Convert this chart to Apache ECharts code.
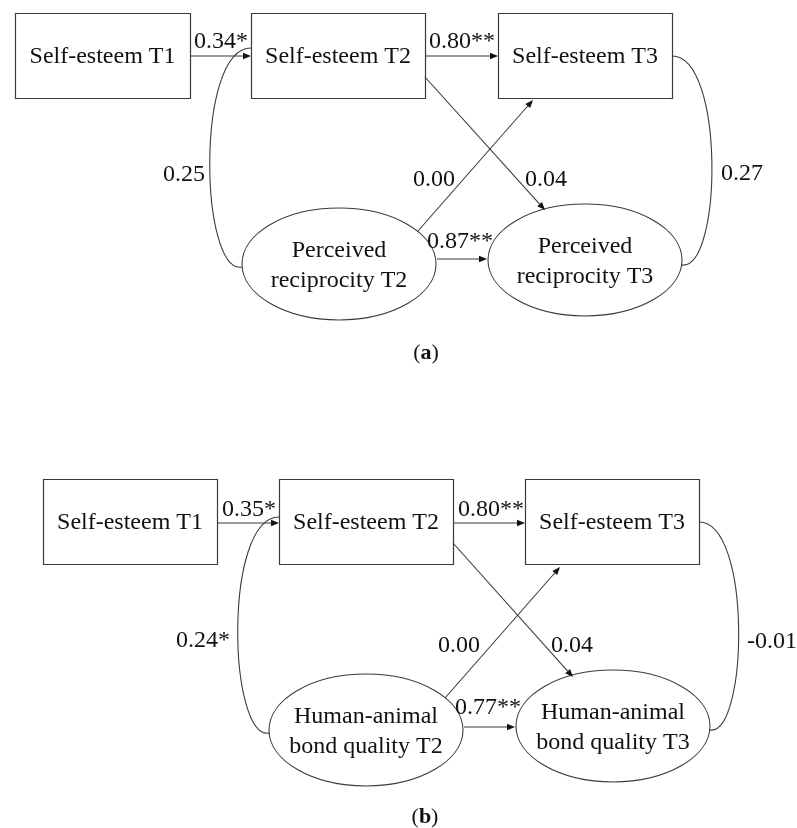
<!DOCTYPE html>
<html>
<head>
<meta charset="utf-8">
<script src="https://cdn.jsdelivr.net/npm/echarts@6/dist/echarts.min.js"></script>
<style>html,body{margin:0;padding:0;background:#fff}#c{width:797px;height:828px}</style>
</head>
<body>
<div id="c"></div>
<script>
// ---- Data ----
const panelTags = ['a', 'b'];
const observedNames = ['Self-esteem T1', 'Self-esteem T2', 'Self-esteem T3'];
const latentNamesA = ['Perceived\nreciprocity T2', 'Perceived\nreciprocity T3'];
const latentNamesB = ['Human-animal\nbond quality T2', 'Human-animal\nbond quality T3'];
// order: T1->T2, T2->T3, L2->T3, T2->L3, L2->L3, cov(T2,L2), cov(T3,L3)
const coefA = ['0.34*', '0.80**', '0.00', '0.04', '0.87**', '0.25', '0.27'];
const coefB = ['0.35*', '0.80**', '0.00', '0.04', '0.77**', '0.24*', '-0.01'];

// ---- Layout (diagram units on hidden axes) ----
const layout = [
  { // panel a
    boxes: [[15, 13, 190, 98], [251, 13, 425, 98], [498, 13, 672, 98]],
    ells: [[339, 264, 97, 56], [585, 260, 97, 56]],
    arrows: [[190, 56, 251, 56], [425, 56, 498, 56], [418, 231, 533, 100], [425, 77, 545, 210], [437, 259, 487, 259]],
    curves: [[251, 48, 195, 48, 200, 275, 242, 267], [672, 56, 725, 56, 722, 270, 682, 265]],
    labels: [[221, 41], [462, 41], [434, 179], [546, 179], [460, 241], [184, 174], [742, 173]],
    tag: [426, 353]
  },
  { // panel b
    boxes: [[43, 479, 217, 564], [279, 479, 453, 564], [525, 479, 699, 564]],
    ells: [[366, 730, 97, 56], [613, 726, 97, 56]],
    arrows: [[217, 523, 279, 523], [453, 523, 525, 523], [445, 698, 560, 567], [453, 543, 573, 677], [464, 727, 515, 727]],
    curves: [[279, 517, 223, 517, 228, 742, 270, 733], [699, 522, 752, 522, 748, 735, 710, 730]],
    labels: [[249, 509], [491, 509], [459, 645], [572, 645], [488, 707], [203, 640], [772, 641]],
    tag: [425, 817]
  }
];

const FONT = '"Liberation Serif", "Times New Roman", serif';
const LINE = '#3a3a3a';

const boxData = [], ellData = [], arrowData = [], curveData = [], labelData = [], tagData = [];
[[latentNamesA, coefA], [latentNamesB, coefB]].forEach(function (p, i) {
  const L = layout[i];
  L.boxes.forEach(function (b, k) { boxData.push({ value: b.concat([]), name: observedNames[k] }); });
  L.ells.forEach(function (e, k) { ellData.push({ value: e.concat([]), name: p[0][k] }); });
  L.arrows.forEach(function (a) { arrowData.push({ value: a.concat([]) }); });
  L.curves.forEach(function (c) { curveData.push({ value: c.concat([]) }); });
  L.labels.forEach(function (l, k) { labelData.push({ value: l.concat([]), name: p[1][k] }); });
  tagData.push({ value: L.tag.concat([]), name: panelTags[i] });
});

const chart = echarts.init(document.getElementById('c'), null, { renderer: 'canvas' });

function pt(api, x, y) { return api.coord([x, y]); }

const option = {
  backgroundColor: '#ffffff',
  animation: false,
  grid: { left: 0, right: 0, top: 0, bottom: 0 },
  xAxis: { type: 'value', min: 0, max: 797, show: false },
  yAxis: { type: 'value', min: 0, max: 828, inverse: true, show: false },
  series: [
    {
      type: 'custom', name: 'boxes', data: boxData, silent: true,
      renderItem: function (params, api) {
        const d = boxData[params.dataIndex];
        const a = pt(api, api.value(0), api.value(1));
        const b = pt(api, api.value(2), api.value(3));
        return {
          type: 'group', children: [
            { type: 'rect', shape: { x: a[0] + 0.5, y: a[1] + 0.5, width: b[0] - a[0], height: b[1] - a[1] },
              style: { fill: '#fff', stroke: LINE, lineWidth: 1.2 } },
            { type: 'text', x: (a[0] + b[0]) / 2, y: (a[1] + b[1]) / 2 + 1,
              style: { text: d.name, font: '24px ' + FONT, fill: '#111', align: 'center', verticalAlign: 'middle' } }
          ]
        };
      }
    },
    {
      type: 'custom', name: 'ellipses', data: ellData, silent: true,
      renderItem: function (params, api) {
        const d = ellData[params.dataIndex];
        const c = pt(api, api.value(0), api.value(1));
        const e = pt(api, api.value(0) + api.value(2), api.value(1) + api.value(3));
        return {
          type: 'group', children: [
            { type: 'ellipse', shape: { cx: c[0], cy: c[1], rx: e[0] - c[0], ry: e[1] - c[1] },
              style: { fill: '#fff', stroke: LINE, lineWidth: 1.1 } },
            { type: 'text', x: c[0], y: c[1] + 2,
              style: { text: d.name, font: '24px ' + FONT, lineHeight: 30, fill: '#111', align: 'center', verticalAlign: 'middle' } }
          ]
        };
      }
    },
    {
      type: 'custom', name: 'arrows', data: arrowData, silent: true,
      renderItem: function (params, api) {
        const s = pt(api, api.value(0), api.value(1));
        const t = pt(api, api.value(2), api.value(3));
        const dx = t[0] - s[0], dy = t[1] - s[1];
        const len = Math.sqrt(dx * dx + dy * dy);
        const ux = dx / len, uy = dy / len;
        const hl = 8, hw = 3.2;
        const bx = t[0] - ux * hl, by = t[1] - uy * hl;
        return {
          type: 'group', children: [
            { type: 'line', shape: { x1: s[0], y1: s[1], x2: bx, y2: by }, style: { stroke: LINE, lineWidth: 1.1 } },
            { type: 'polygon', shape: { points: [[t[0], t[1]], [bx - uy * hw, by + ux * hw], [bx + uy * hw, by - ux * hw]] },
              style: { fill: '#111' } }
          ]
        };
      }
    },
    {
      type: 'custom', name: 'curves', data: curveData, silent: true,
      renderItem: function (params, api) {
        const p = [];
        for (let k = 0; k < 4; k++) p.push(pt(api, api.value(2 * k), api.value(2 * k + 1)));
        return {
          type: 'bezierCurve',
          shape: { x1: p[0][0], y1: p[0][1], cpx1: p[1][0], cpy1: p[1][1], cpx2: p[2][0], cpy2: p[2][1], x2: p[3][0], y2: p[3][1] },
          style: { stroke: LINE, lineWidth: 1.1, fill: null }
        };
      }
    },
    {
      type: 'custom', name: 'labels', data: labelData, silent: true,
      renderItem: function (params, api) {
        const d = labelData[params.dataIndex];
        const c = pt(api, api.value(0), api.value(1));
        return { type: 'text', x: c[0], y: c[1] + 1,
          style: { text: d.name, font: '24px ' + FONT, fill: '#111', align: 'center', verticalAlign: 'middle' } };
      }
    },
    {
      type: 'custom', name: 'tags', data: tagData, silent: true,
      renderItem: function (params, api) {
        const d = tagData[params.dataIndex];
        const c = pt(api, api.value(0), api.value(1));
        return { type: 'text', x: c[0], y: c[1],
          style: { text: '(' + '{b|' + d.name + '})', font: '22px ' + FONT, fill: '#111', align: 'center', verticalAlign: 'middle',
            rich: { b: { font: 'bold 22px ' + FONT, fill: '#111' } } } };
      }
    }
  ]
};
chart.setOption(option);
</script>
</body>
</html>
